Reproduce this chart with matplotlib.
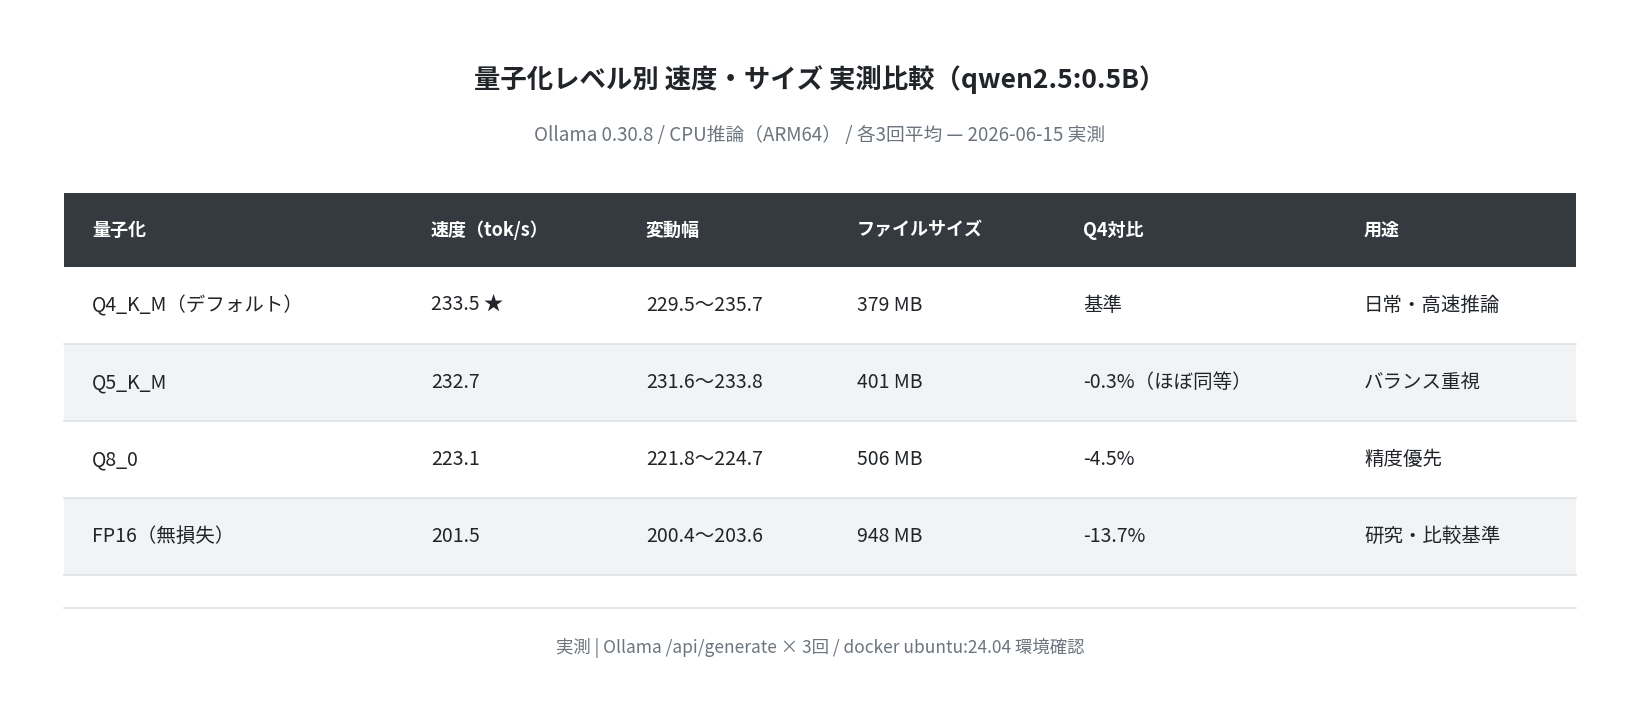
import matplotlib.pyplot as plt
from matplotlib.patches import Rectangle

plt.rcParams['font.family'] = ['Noto Sans CJK JP', 'DejaVu Sans']

title = "量子化レベル別 速度・サイズ 実測比較（qwen2.5:0.5B）"
subtitle = "Ollama 0.30.8 / CPU推論（ARM64） / 各3回平均 — 2026-06-15 実測"
footer = "実測 | Ollama /api/generate × 3回 / docker ubuntu:24.04 環境確認"

headers = ["量子化", "速度（tok/s）", "変動幅", "ファイルサイズ", "Q4対比", "用途"]
quant = ["Q4_K_M（デフォルト）", "Q5_K_M", "Q8_0", "FP16（無損失）"]
speed = ["233.5 ★", "232.7", "223.1", "201.5"]
spread = ["229.5〜235.7", "231.6〜233.8", "221.8〜224.7", "200.4〜203.6"]
size = ["379 MB", "401 MB", "506 MB", "948 MB"]
vs_q4 = ["基準", "-0.3%（ほぼ同等）", "-4.5%", "-13.7%"]
usage = ["日常・高速推論", "バランス重視", "精度優先", "研究・比較基準"]

col_x = [92, 431, 646, 857, 1083, 1364]
left, right = 64, 1576
head_top, head_h, row_h = 193, 74, 77

fig = plt.figure(figsize=(16.4, 7.04), dpi=100)
ax = fig.add_axes([0, 0, 1, 1])
ax.set_xlim(0, 1640)
ax.set_ylim(704, 0)
ax.axis("off")

ax.text(820, 80, title, ha="center", va="center", fontsize=19, fontweight="bold", color="#212529")
ax.text(820, 136, subtitle, ha="center", va="center", fontsize=13.5, color="#6c757d")

# header band
ax.add_patch(Rectangle((left, head_top), right - left, head_h, color="#343a40", lw=0))
for x, h in zip(col_x, headers):
    ax.text(x, head_top + head_h / 2, h, ha="left", va="center", fontsize=13,
            fontweight="bold", color="white")

rows = list(zip(quant, speed, spread, size, vs_q4, usage))
for i, row in enumerate(rows):
    top = head_top + head_h + i * row_h
    if i % 2 == 1:
        ax.add_patch(Rectangle((left, top), right - left, row_h, color="#f1f3f5", lw=0))
    ax.plot([left, right], [top + row_h, top + row_h], color="#dee2e6", lw=1.2)
    for x, v in zip(col_x, row):
        ax.text(x, top + row_h / 2, v, ha="left", va="center", fontsize=14, color="#212529")

ax.plot([left, right], [608, 608], color="#dee2e6", lw=1.2)
ax.text(820, 648, footer, ha="center", va="center", fontsize=12.5, color="#6c757d")

fig.savefig("out.png", dpi=100, facecolor="white")
